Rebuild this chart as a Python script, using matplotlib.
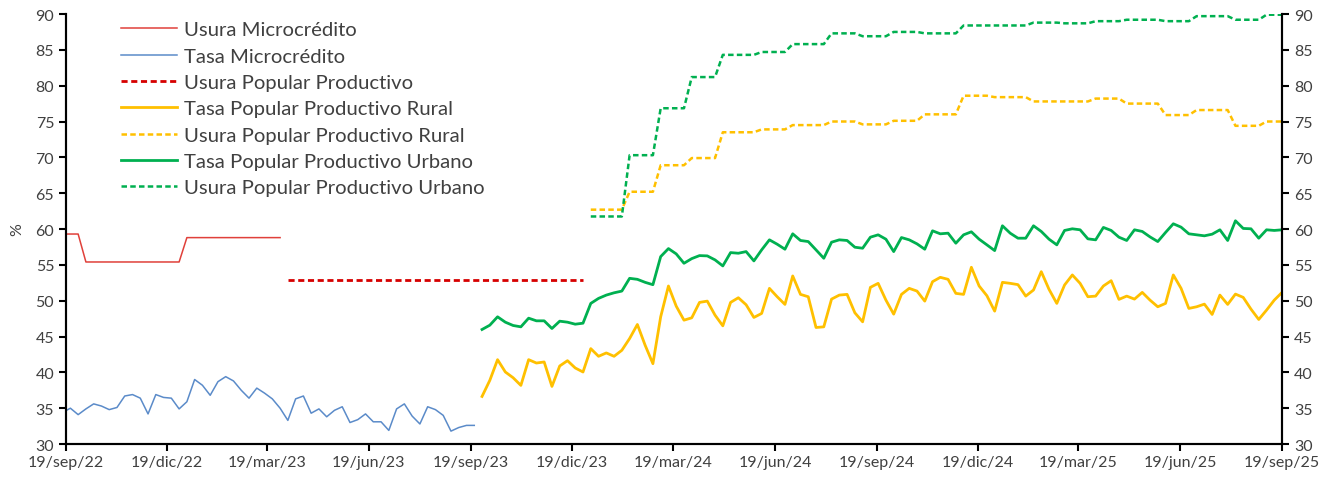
import numpy as np
import pandas as pd
import matplotlib
matplotlib.use('Agg')
import matplotlib.pyplot as plt

plt.rcParams['font.family'] = ['Lato', 'DejaVu Sans']

# --- datos semanales (viernes) ---
fechas_micro = pd.date_range('2022-09-16', '2023-09-22', freq='W-FRI')
tasa_micro = [34.4, 35.0, 34.1, 34.9, 35.6, 35.3, 34.8, 35.1, 36.7, 36.9,
              36.4, 34.2, 36.9, 36.5, 36.4, 34.9, 35.9, 39.0, 38.2, 36.8, 38.7,
              39.4, 38.8, 37.5, 36.4, 37.8, 37.1, 36.3, 35.0, 33.3, 36.3, 36.7,
              34.3, 34.9, 33.8, 34.7, 35.2, 33.0, 33.4, 34.2, 33.1, 33.1, 31.9,
              34.9, 35.6, 33.9, 32.8, 35.2, 34.8, 34.0, 31.8, 32.3, 32.6, 32.6]

fechas_usura_micro = pd.date_range('2022-09-16', '2023-03-31', freq='W-FRI')
usura_micro_niveles = [59.3, 55.4, 58.8]
usura_micro_semanas = [3, 13, 13]

fechas_usura_pp = pd.date_range('2023-04-07', '2023-12-29', freq='W-FRI')
usura_pp = [52.9] * len(fechas_usura_pp)

fechas_tasa_pp = pd.date_range('2023-09-29', '2025-09-19', freq='W-FRI')
tasa_urbano = [45.98, 46.58, 47.75, 47.0, 46.54, 46.35, 47.56, 47.19, 47.19, 46.12,
               47.14, 47.0, 46.72, 46.86, 49.62, 50.32, 50.78, 51.1, 51.34, 53.12,
               52.98, 52.56, 52.23, 56.15, 57.27, 56.53, 55.22, 55.87, 56.29, 56.25,
               55.69, 54.85, 56.71, 56.62, 56.85, 55.55, 57.09, 58.49, 57.88, 57.18,
               59.33, 58.4, 58.25, 57.09, 55.92, 58.16, 58.49, 58.4, 57.46, 57.32,
               58.86, 59.19, 58.58, 56.85, 58.81, 58.49, 57.93, 57.18, 59.75, 59.33,
               59.42, 58.02, 59.19, 59.61, 58.58, 57.79, 56.99, 60.45, 59.42, 58.72,
               58.72, 60.45, 59.66, 58.58, 57.79, 59.8, 60.03, 59.89, 58.63, 58.49,
               60.22, 59.8, 58.86, 58.4, 59.89, 59.66, 58.9, 58.25, 59.52, 60.73,
               60.26, 59.33, 59.19, 59.05, 59.28, 59.89, 58.4, 61.15, 60.08, 60.03,
               58.72, 59.89, 59.8, 59.89]
tasa_rural = [36.64, 38.88, 41.77, 40.05, 39.25, 38.18, 41.77, 41.3, 41.45, 38.04,
              40.89, 41.63, 40.61, 40.05, 43.31, 42.24, 42.71, 42.24, 43.08, 44.72,
              46.68, 43.78, 41.21, 47.75, 52.05, 49.24, 47.28, 47.61, 49.76, 49.94,
              47.98, 46.49, 49.76, 50.41, 49.43, 47.66, 48.22, 51.72, 50.55, 49.48,
              53.45, 50.88, 50.55, 46.26, 46.35, 50.22, 50.78, 50.88, 48.31, 47.05,
              51.86, 52.42, 50.08, 48.12, 50.88, 51.72, 51.34, 49.94, 52.65, 53.26,
              52.98, 51.02, 50.88, 54.66, 52.05, 50.69, 48.54, 52.56, 52.42, 52.24,
              50.64, 51.49, 54.05, 51.58, 49.62, 52.19, 53.59, 52.42, 50.55, 50.64,
              52.05, 52.79, 50.18, 50.64, 50.22, 51.16, 50.08, 49.15, 49.62, 53.59,
              51.72, 48.92, 49.15, 49.52, 48.08, 50.78, 49.48, 50.92, 50.46, 48.82,
              47.38, 48.68, 50.08, 51.16]

fechas_usura_ppr = pd.date_range('2024-01-05', '2025-09-19', freq='W-FRI')
semanas_nivel = [5, 4, 4, 4, 5, 4, 5, 4, 4, 4, 5, 4, 5, 4, 4, 4, 5, 4, 5, 4, 3]
usura_urbano_niveles = [61.75, 70.3, 76.85, 81.2, 84.3, 84.7, 85.8, 87.3, 86.9, 87.5,
                        87.3, 88.4, 88.4, 88.8, 88.7, 89.0, 89.2, 89.0, 89.7, 89.2, 89.9]
usura_rural_niveles = [62.7, 65.2, 68.9, 69.9, 73.5, 73.9, 74.5, 75.0, 74.6, 75.1,
                       76.0, 78.6, 78.4, 77.8, 77.8, 78.2, 77.5, 75.9, 76.6, 74.4, 75.0]

ticks = pd.to_datetime(['2022-09-19', '2022-12-19', '2023-03-19', '2023-06-19',
                        '2023-09-19', '2023-12-19', '2024-03-19', '2024-06-19',
                        '2024-09-19', '2024-12-19', '2025-03-19', '2025-06-19',
                        '2025-09-19'])
tick_labels = ['19/sep/22', '19/dic/22', '19/mar/23', '19/jun/23', '19/sep/23',
               '19/dic/23', '19/mar/24', '19/jun/24', '19/sep/24', '19/dic/24',
               '19/mar/25', '19/jun/25', '19/sep/25']

usura_micro = np.repeat(usura_micro_niveles, usura_micro_semanas)
usura_urbano = np.repeat(usura_urbano_niveles, semanas_nivel)
usura_rural = np.repeat(usura_rural_niveles, semanas_nivel)

txt = '#404040'
fig = plt.figure(figsize=(13.32, 4.81), dpi=100)
ax = fig.add_axes([0.0495, 0.0748, 0.913, 0.894])

ax.plot(fechas_usura_micro, usura_micro, color='#E0403A', lw=1.1, label='Usura Microcrédito')
ax.plot(fechas_micro, tasa_micro, color='#5B8BC9', lw=1.1, label='Tasa Microcrédito')
ax.plot(fechas_usura_pp, usura_pp, color='#D60000', lw=2, ls=(0, (2.2, 1.3)),
        label='Usura Popular Productivo')
ax.plot(fechas_tasa_pp, tasa_rural, color='#FFC000', lw=2, label='Tasa Popular Productivo Rural')
ax.plot(fechas_usura_ppr, usura_rural, color='#FFC000', lw=1.8, ls=(0, (2.2, 1.3)),
        label='Usura Popular Productivo Rural')
ax.plot(fechas_tasa_pp, tasa_urbano, color='#00B050', lw=2, label='Tasa Popular Productivo Urbano')
ax.plot(fechas_usura_ppr, usura_urbano, color='#00B050', lw=1.8, ls=(0, (2.2, 1.3)),
        label='Usura Popular Productivo Urbano')

ax.set_xlim(ticks[0], ticks[-1])
ax.set_ylim(30, 90)
ax.set_yticks(range(30, 91, 5))
ax.set_xticks(ticks)
ax.set_xticklabels(tick_labels)

ax2 = ax.twinx()
ax2.set_ylim(30, 90)
ax2.set_yticks(range(30, 91, 5))

for a in (ax, ax2):
    a.spines['top'].set_visible(False)
    for s in a.spines.values():
        s.set_linewidth(1.5)
        s.set_color('black')
    a.tick_params(colors='black', labelcolor=txt, labelsize=11.5, width=1.5, length=5)
ax.tick_params(axis='x', pad=3)

ax.set_ylabel('%', color=txt, fontsize=11.5, labelpad=8)

leg = ax.legend(loc='upper left', bbox_to_anchor=(0.0373, 1.007), frameon=False,
                fontsize=14.6, handlelength=2.76, handletextpad=0.35, labelspacing=0.45,
                borderaxespad=0.1)
for t in leg.get_texts():
    t.set_color(txt)

fig.savefig('out.png', dpi=100)
